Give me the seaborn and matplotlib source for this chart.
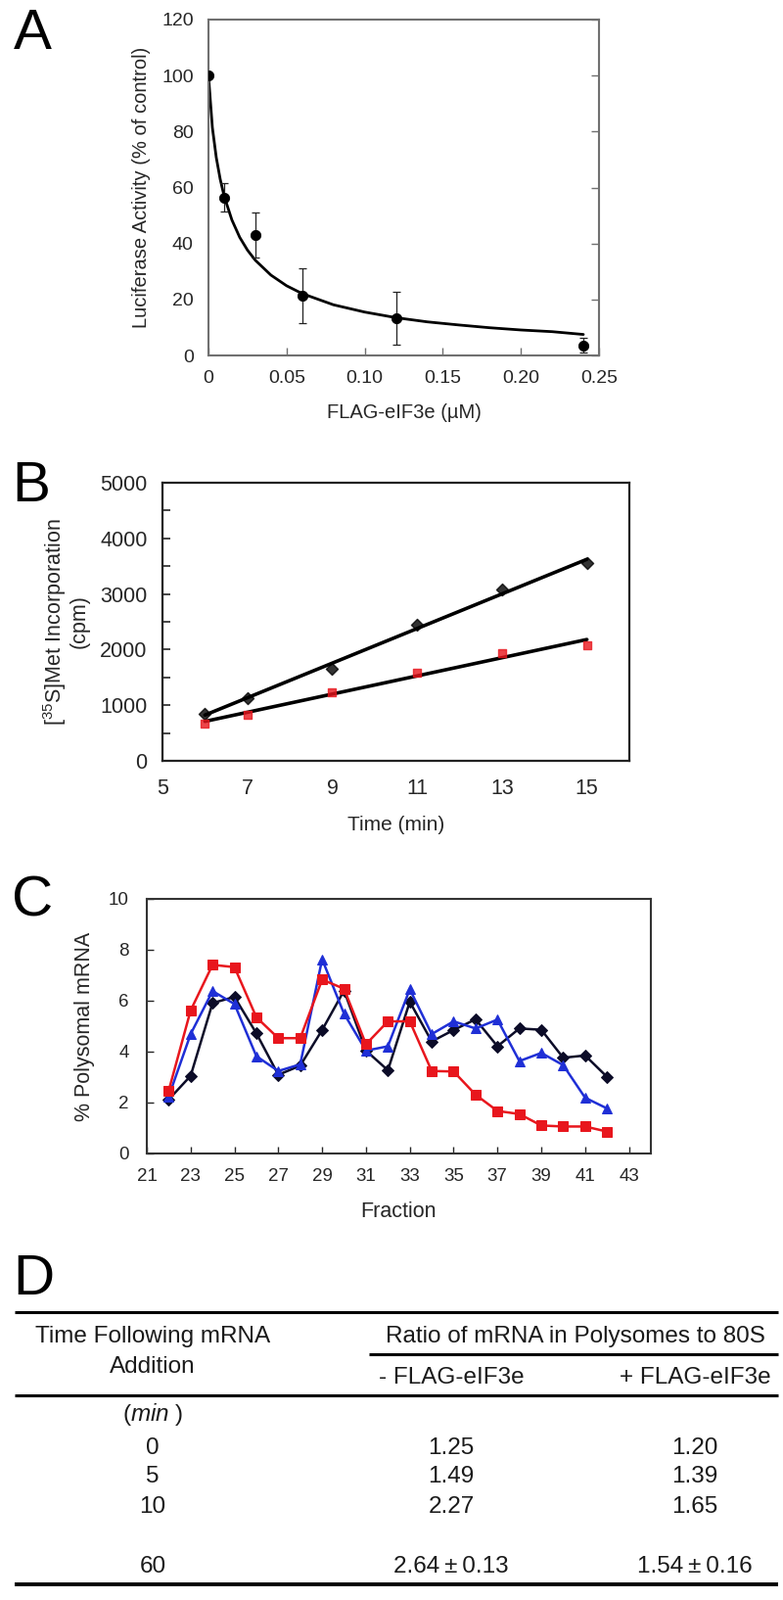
import matplotlib
matplotlib.use("Agg")
import matplotlib.pyplot as plt
from matplotlib.ticker import MultipleLocator, FixedLocator
import seaborn as sns
import numpy as np

# ---------------- data ----------------
# Panel A
a_conc = [0.0, 0.01, 0.03, 0.06, 0.12, 0.24]
a_activity = [100.0, 56.5, 43.0, 21.3, 13.3, 3.6]
a_err = [0.0, 5.0, 8.0, 9.8, 9.6, 2.6]
a_fit_x = [0.0, 0.0025, 0.005, 0.0075, 0.01, 0.015, 0.02, 0.025, 0.03, 0.04,
           0.05, 0.06, 0.08, 0.10, 0.12, 0.14, 0.16, 0.18, 0.20, 0.22, 0.24]
a_fit_y = [100.0, 81.4, 70.7, 63.0, 57.0, 48.4, 42.2, 37.6, 34.0, 28.7,
           24.9, 22.1, 18.1, 15.5, 13.5, 12.0, 10.9, 9.9, 9.1, 8.5, 7.5]
a_xticks = [0, 0.05, 0.10, 0.15, 0.20, 0.25]
a_xticklabels = ["0", "0.05", "0.10", "0.15", "0.20", "0.25"]

# Panel B
b_time = [6, 7, 9, 11, 13, 15]
b_black = [853, 1129, 1647, 2441, 3088, 3559]
b_red = [676, 835, 1235, 1588, 1929, 2082]

# Panel C
c_fraction = list(range(22, 43))
c_black = [2.12, 3.05, 5.91, 6.15, 4.72, 3.09, 3.45, 4.85, 6.40, 4.04, 3.27,
           5.96, 4.40, 4.85, 5.27, 4.21, 4.91, 4.86, 3.76, 3.85, 3.01]
c_blue = [2.24, 4.69, 6.38, 5.87, 3.82, 3.24, 3.50, 7.63, 5.49, 4.04, 4.21,
          6.45, 4.69, 5.19, 4.91, 5.26, 3.63, 3.95, 3.47, 2.19, 1.77]
c_red = [2.47, 5.62, 7.41, 7.32, 5.35, 4.53, 4.53, 6.83, 6.47, 4.29, 5.19,
         5.19, 3.24, 3.22, 2.31, 1.67, 1.55, 1.10, 1.06, 1.06, 0.86]

# Panel D
d_times = ["0", "5", "10", "60"]
d_minus = ["1.25", "1.49", "2.27", "2.64\u2009\u00b1\u20090.13"]
d_plus = ["1.20", "1.39", "1.65", "1.54\u2009\u00b1\u20090.16"]

# ---------------- style ----------------
sns.set_style("white")
plt.rcParams["font.family"] = ["Liberation Sans", "DejaVu Sans"]
plt.rcParams["mathtext.fontset"] = "custom"
plt.rcParams["mathtext.rm"] = "Liberation Sans"
plt.rcParams["mathtext.it"] = "Liberation Sans:italic"
plt.rcParams["text.color"] = "#1a1a1a"

W, H = 800, 1634
fig = plt.figure(figsize=(W / 100, H / 100), dpi=100)


def box(l, t, r, b):
    return [l / W, 1 - b / H, (r - l) / W, (b - t) / H]


RED = "#e8161d"
BLUE = "#1f2fd6"
DARK = "#0c0c28"

# ---------------- Panel A ----------------
axA = fig.add_axes(box(213, 20, 612, 363))
sns.lineplot(x=a_fit_x, y=a_fit_y, color="black", linewidth=2.0, ax=axA)
axA.errorbar(a_conc, a_activity, yerr=a_err, fmt="none", ecolor="#222222",
             elinewidth=0.9, capsize=3, capthick=0.9, zorder=3)
sns.scatterplot(x=a_conc, y=a_activity, color="black", s=55, marker="o",
                edgecolor="black", ax=axA, zorder=4)
axA.set_xlim(0, 0.25)
axA.set_ylim(0, 120)
axA.xaxis.set_major_locator(FixedLocator(a_xticks))
axA.set_xticklabels(a_xticklabels)
axA.yaxis.set_major_locator(MultipleLocator(20))
axA.tick_params(axis="x", direction="in", length=6, width=1, color="#707070",
                labelsize=14, pad=11, bottom=True)
axA.tick_params(axis="y", direction="in", length=6, width=1, color="#707070",
                labelsize=14, pad=11, left=False, right=True, labelleft=True)
for s in axA.spines.values():
    s.set_color("#707070")
    s.set_linewidth(1.5)
axA.set_xlabel("FLAG-eIF3e (\u00b5M)", fontsize=14.5, labelpad=12)
axA.set_ylabel("Luciferase Activity (% of control)", fontsize=14.5, labelpad=8)

# ---------------- Panel B ----------------
axB = fig.add_axes(box(166, 493, 643, 777))
sns.regplot(x=b_time, y=b_black, ci=None, ax=axB, marker="D", color="black",
            scatter_kws=dict(s=38, color="black", zorder=3),
            line_kws=dict(color="black", linewidth=2.6, zorder=2))
sns.regplot(x=b_time, y=b_red, ci=None, ax=axB, marker="s", color=RED,
            scatter_kws=dict(s=30, color=RED, zorder=3),
            line_kws=dict(color="black", linewidth=2.6, zorder=2))
axB.set_xlim(5, 16)
axB.set_ylim(0, 5000)
axB.xaxis.set_major_locator(FixedLocator([5, 7, 9, 11, 13, 15]))
axB.yaxis.set_major_locator(MultipleLocator(1000))
axB.yaxis.set_minor_locator(MultipleLocator(500))
axB.tick_params(axis="x", direction="in", length=6, width=1.2, labelsize=15.5, pad=13)
axB.tick_params(axis="y", which="both", direction="in", length=6, width=1.2,
                labelsize=15.5, pad=11, left=True)
axB.tick_params(axis="y", which="minor", left=True)
for s in axB.spines.values():
    s.set_color("#222222")
    s.set_linewidth(1.6)
axB.set_xlabel("Time (min)", fontsize=15, labelpad=12)
axB.set_ylabel("[$^{35}$S]Met Incorporation\n(cpm)", fontsize=15.5,
               labelpad=8, linespacing=1.0)

# ---------------- Panel C ----------------
axC = fig.add_axes(box(150, 918, 665, 1178))
sns.lineplot(x=c_fraction, y=c_black, color=DARK, marker="D", markersize=6.5,
             markeredgecolor=DARK, linewidth=1.8, ax=axC)
sns.lineplot(x=c_fraction, y=c_blue, color=BLUE, marker="^", markersize=7.5,
             markeredgecolor=BLUE, linewidth=1.8, ax=axC)
sns.lineplot(x=c_fraction, y=c_red, color=RED, marker="s", markersize=6.5,
             markeredgecolor=RED, linewidth=1.8, ax=axC)
axC.set_xlim(21, 44)
axC.set_ylim(0, 10)
axC.xaxis.set_major_locator(FixedLocator(list(range(21, 44, 2))))
axC.yaxis.set_major_locator(MultipleLocator(2))
axC.tick_params(axis="x", direction="in", length=5, width=1, labelsize=13.5, pad=11, bottom=True)
axC.tick_params(axis="y", direction="in", length=5, width=1, labelsize=13.5, pad=13, left=True)
for s in axC.spines.values():
    s.set_color("#333333")
    s.set_linewidth(1.5)
axC.set_xlabel("Fraction", fontsize=15.5, labelpad=12)
axC.set_ylabel("% Polysomal mRNA", fontsize=15.5, labelpad=10)

# ---------------- Panel D (table) + panel letters ----------------
axD = fig.add_axes([0, 0, 1, 1], zorder=-1)
axD.set_xlim(0, W)
axD.set_ylim(H, 0)
axD.axis("off")
axD.patch.set_alpha(0)

for letter, (lx, ly) in zip("ABCD", [(14, 8), (12, 470), (12, 893), (13, 1280)]):
    axD.text(lx, ly, letter, fontsize=42, va="top", ha="left", color="black")

fs = 17.5
axD.plot([15, 795], [1340, 1340], color="black", lw=2.2, solid_capstyle="butt")
axD.plot([377, 795], [1383, 1383], color="black", lw=2.2, solid_capstyle="butt")
axD.plot([15, 795], [1425, 1425], color="black", lw=2.2, solid_capstyle="butt")
axD.plot([15, 795], [1618, 1618], color="black", lw=2.8, solid_capstyle="butt")

axD.text(156, 1365, "Time Following mRNA", fontsize=fs, ha="center", va="center")
axD.text(156, 1396, "Addition", fontsize=fs, ha="center", va="center")
axD.text(588, 1365, "Ratio of mRNA in Polysomes to 80S", fontsize=fs, ha="center", va="center")
axD.text(461, 1407, "- FLAG-eIF3e", fontsize=fs, ha="center", va="center")
axD.text(710, 1407, "+ FLAG-eIF3e", fontsize=fs, ha="center", va="center")
axD.text(156, 1445, r"($\mathit{min}$ )", fontsize=fs, ha="center", va="center")

row_y = [1479, 1508, 1539, 1600]
for ty, t, m, p in zip(row_y, d_times, d_minus, d_plus):
    axD.text(156, ty, t, fontsize=fs, ha="center", va="center")
    axD.text(461, ty, m, fontsize=fs, ha="center", va="center")
    axD.text(710, ty, p, fontsize=fs, ha="center", va="center")

fig.savefig("out.png", dpi=100)
